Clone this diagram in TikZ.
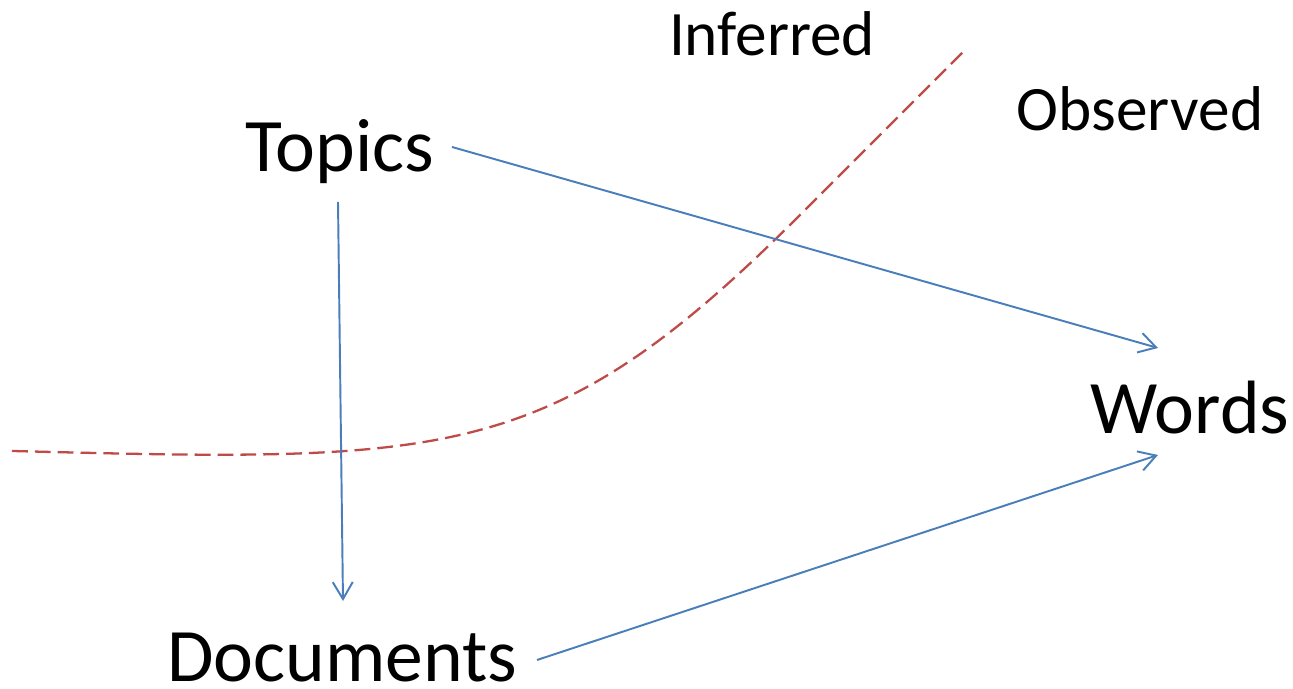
\documentclass[tikz,border=0pt]{standalone}
\usepackage{fontspec}
\setmainfont{Carlito}
\usepackage{tikz}
\usetikzlibrary{arrows.meta}

\definecolor{linkblue}{HTML}{4A7EBB}
\definecolor{borderred}{HTML}{BE4B48}

\begin{document}
\begin{tikzpicture}[
    term/.style={anchor=base, inner sep=0pt, font=\fontsize{43}{50}\selectfont},
    side/.style={anchor=base, inner sep=0pt, font=\fontsize{36}{42}\selectfont},
    link/.style={-{Straight Barb[length=3.4mm, width=4mm]}, line width=1.1pt, linkblue},
    border/.style={line width=1.3pt, borderred, dash pattern=on 9pt off 4pt},
]
  \useasboundingbox (0,0) rectangle (25.86,13.78);

  \node[term] (topics) at (6.8, 10.34) {Topics};
  \node[term] (words) at (23.8, 5.1) {Words};
  \node[term, text depth=0pt] (docs) at (6.84, 0.14) {Documents};

  \node[side] (inferred) at (15.44, 12.66) {Inferred};
  \node[side] (observed) at (22.8, 11.16) {Observed};

  % boundary between inferred and observed
  \draw[border] (0.24, 4.76) .. controls (9.0, 4.54) and (11.0, 4.48) .. (16.0, 9.48) -- (19.34, 12.82);

  \draw[link] ([shift={(2.24,0.5)}]topics.base) -- ([shift={(-0.64,1.72)}]words.base);
  \draw[link] ([shift={(-0.04,-0.6)}]topics.base) -- ([shift={(0.02,1.62)}]docs.base);
  \draw[link] ([shift={(3.9,0.44)}]docs.base) -- ([shift={(-0.64,-0.42)}]words.base);
\end{tikzpicture}
\end{document}
